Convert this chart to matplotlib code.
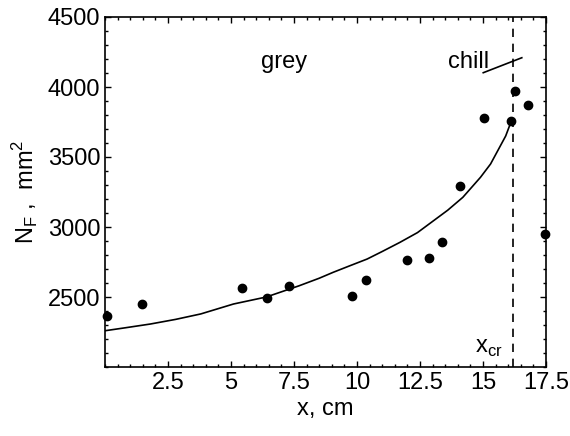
import matplotlib
matplotlib.use('Agg')
import matplotlib.pyplot as plt
from matplotlib.ticker import MultipleLocator

plt.rcParams['font.family'] = ['Liberation Sans', 'DejaVu Sans']

# measured points
x_pts = [0.08, 1.47, 5.43, 6.42, 7.3, 9.79, 10.36, 12.0, 12.86, 13.39, 14.09, 15.04, 16.11, 16.28, 16.8, 17.46]
nf_pts = [2364, 2450, 2564, 2493, 2577, 2509, 2621, 2764, 2779, 2890, 3295, 3776, 3759, 3971, 3871, 2950]

# fitted curve
x_fit = [0.0, 0.8, 1.8, 2.8, 3.8, 5.1, 6.4, 7.7, 8.5, 9.05, 9.7, 10.4, 11.0, 11.7, 12.4,
         13.0, 13.6, 14.2, 14.9, 15.3, 15.6, 15.9, 16.11]
nf_fit = [2259, 2280, 2307, 2340, 2379, 2450, 2500, 2580, 2634, 2676, 2722, 2771, 2825, 2890, 2960,
          3040, 3120, 3212, 3355, 3450, 3550, 3650, 3750]

x_cr = 16.18
chill_x = [15.01, 16.54]
chill_y = [4102, 4209]

fig = plt.figure(figsize=(5.7, 4.36), dpi=100)
ax = fig.add_axes([105/570, 1 - 367/436, 441/570, 350/436])

ax.plot(x_fit, nf_fit, color='black', lw=1.2)
ax.plot(x_pts, nf_pts, 'o', color='black', ms=6, clip_on=False)
ax.axvline(x_cr, color='black', ls=(0, (5, 4)), lw=1.2)
ax.plot(chill_x, chill_y, color='black', lw=1.2)

ax.text(6.2, 4179, 'grey', fontsize=17, va='center')
ax.text(13.6, 4179, 'chill', fontsize=17, va='center')
ax.text(14.7, 2135, r'x$_{\mathregular{cr}}$', fontsize=17, va='center')

ax.set_xlim(0, 17.5)
ax.set_ylim(2000, 4500)
ax.set_xticks([2.5, 5, 7.5, 10, 12.5, 15, 17.5])
ax.set_xticklabels(['2.5', '5', '7.5', '10', '12.5', '15', '17.5'])
ax.set_yticks([2500, 3000, 3500, 4000, 4500])
ax.xaxis.set_minor_locator(MultipleLocator(0.5))
ax.yaxis.set_minor_locator(MultipleLocator(100))
ax.tick_params(which='both', direction='in', top=True, right=True, labelsize=17, width=1)
ax.tick_params(which='major', length=4)
ax.tick_params(which='minor', length=2)
for s in ax.spines.values():
    s.set_linewidth(1.2)

ax.set_xlabel('x, cm', fontsize=17, labelpad=3)
ax.set_ylabel(r'N$_{\mathregular{F}}$ ,  mm$^{\mathregular{2}}$', fontsize=17, labelpad=5)

fig.savefig('out.png', dpi=100)
